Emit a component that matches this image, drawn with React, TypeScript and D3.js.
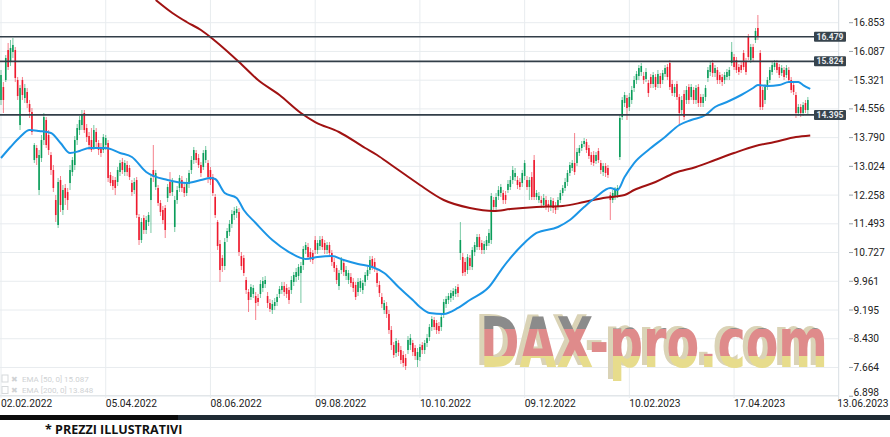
import React from "react";
import * as d3 from "d3";

const xTickBars = [0, 44, 88, 132, 176, 220, 264, 308, 352];
const xTickLabels = ["02.02.2022", "05.04.2022", "08.06.2022", "09.08.2022", "10.10.2022", "09.12.2022", "10.02.2023", "17.04.2023", "13.06.2023"];
const yTickValues = [6898, 7664, 8430, 9195, 9961, 10727, 11493, 12258, 13024, 13790, 14556, 15321, 16087, 16853];
const yTickLabels = ["6.898", "7.664", "8.430", "9.195", "9.961", "10.727", "11.493", "12.258", "13.024", "13.790", "14.556", "15.321", "16.087", "16.853"];
const levelValues = [16479, 15824, 14395];
const levelLabels = ["16.479", "15.824", "14.395"];
const legendLabels = ["EMA [50, 0] 15.087", "EMA [200, 0] 13.848"];

const opens = [
  14793,15139,15326,16125,15805,16072,16125,15326,14126,15326,
  14846,15006,14686,14473,13193,13513,12394,13247,13726,14260,
  13860,13327,12927,12127,11461,12660,11861,12447,12340,12580,
  12873,13060,13726,13993,14126,14446,14046,13833,13726,13513,
  13940,13646,13540,13460,13593,13646,12794,12660,12660,12607,
  12873,13140,12873,13060,12980,12580,12394,12660,11674,11061,
  11647,11328,11541,12127,12927,12474,12447,12047,11861,11914,
  12181,12607,12340,11408,12127,12447,12660,12474,12314,12554,
  12927,13193,13380,13247,13060,13007,13193,13113,12927,12740,
  12207,11541,10954,10581,10368,11114,11274,11488,11727,11781,
  11807,10635,10581,9995,9675,9542,9622,9568,9515,9622,
  9782,9888,9568,9382,9195,9302,9408,9622,9728,9835,
  9782,9728,9728,9942,10075,10102,10181,10395,10795,10874,
  10741,10715,11061,10795,10901,11088,10981,10795,10928,10715,
  10475,10315,9835,10261,10448,10102,9995,10075,9942,9862,
  9675,9782,9728,9942,10102,10261,10555,10475,10181,9862,
  9542,9195,9302,9089,8662,8262,8049,8316,8129,7996,
  7916,8129,8262,8316,8182,7863,7943,8262,8129,8316,
  8476,8742,8929,8849,8769,8742,9089,9355,9462,9515,
  9568,9622,9808,10715,10608,10475,10261,10581,10341,10741,
  10874,11141,10981,10795,10901,10981,11061,12127,11941,12234,
  12314,12314,12260,12394,12474,12660,12740,12660,12607,12580,
  12767,12660,12474,12740,13193,12207,12127,12127,11994,12127,
  12021,11941,12101,11967,11941,12127,12314,12447,12607,12847,
  12980,13113,13113,13380,13513,13620,13673,13513,13327,13327,
  13167,13433,13113,12873,13033,12980,12260,12127,12207,12260,
  13273,14340,14713,14846,14606,14793,15112,15326,15432,15539,
  15432,15352,15246,15406,15219,15406,15219,15432,15326,15486,
  15672,15779,15219,14979,15219,14873,14526,14953,14793,15139,
  14873,15059,14793,15139,14873,14713,14873,15379,15539,15779,
  15512,15592,15459,15406,15326,15406,15432,15779,15939,15859,
  15672,15725,16045,15805,16472,15859,16205,16392,16712,16045,
  15059,14793,15139,15326,15539,15672,15779,15672,15512,15592,
  15459,15592,15326,15192,14926,14446,14606,14446,14713,14526
];

const highs = [
  15592,15272,15992,16312,16392,16445,16205,15406,15192,15406,
  15219,15112,14793,14579,13646,13593,13460,13860,14446,14340,
  13993,13407,13060,12260,12714,12767,12527,12554,12447,13060,
  13273,13833,14153,14366,14526,14526,14153,13940,14046,14126,
  14046,13726,13646,13886,13860,13726,12873,12767,12740,13007,
  13193,13247,13193,13167,13060,12660,12714,12740,11754,11647,
  11727,11701,11807,12820,13593,12927,12527,12127,11967,11994,
  12554,12873,12714,12234,12500,12794,12767,12580,12714,12927,
  13300,13540,13460,13353,13140,13460,13567,13193,13007,12820,
  12287,11594,11061,10661,11114,11381,11594,11861,11941,11967,
  11914,10741,10661,10075,9755,9888,9862,9675,9622,9995,
  10075,10102,9675,9488,9462,9515,9622,9835,9942,9942,
  9888,9808,10102,10208,10315,10421,10475,10901,11008,10981,
  10848,10795,11168,11061,11168,11168,11061,11008,11008,10795,
  10581,10395,10261,10608,10528,10368,10261,10181,10048,9942,
  10048,10048,9995,10208,10341,10635,10635,10581,10261,9968,
  9648,9462,9408,9195,8769,8342,8449,8396,8236,8102,
  8023,8502,8556,8396,8262,8182,8289,8342,8396,8556,
  8822,9035,9009,8929,8875,9089,9488,9568,9648,9728,
  9782,9835,9888,11541,10715,10581,10688,10661,10874,11008,
  11221,11221,11061,11034,11168,11354,12314,12207,12314,12500,
  12554,12394,12367,12660,12767,13033,12980,12767,12714,12927,
  13193,12767,12740,12873,13327,12394,12340,12234,12287,12234,
  12127,12207,12181,12074,12207,12394,12527,12714,12927,13140,
  13193,13913,13513,13593,13700,13780,13753,13593,13407,13433,
  13407,13513,13193,13113,13113,13060,12340,12394,12474,12527,
  14420,14873,15006,14926,14979,15166,15432,15566,15725,15779,
  15539,15645,15326,15486,15539,15486,15592,15512,15592,15725,
  15752,15859,15326,15219,15299,14953,14899,15059,15166,15219,
  15219,15139,15192,15219,14953,14953,15192,15672,15805,15859,
  15725,15672,15539,15486,15539,15619,15672,16339,16019,15939,
  15752,15805,16125,15912,16552,16286,16286,16712,17058,16125,
  15139,15219,15406,15672,15805,15859,15859,15752,15725,15672,
  15725,15672,15406,15272,15006,14686,14686,14739,14793,14873
];

const lows = [
  14659,14446,15272,15592,15699,15912,15272,14793,13993,14793,
  14713,14579,14313,13860,13113,13060,12260,13140,13593,13513,
  13327,12794,12340,11541,11381,11807,11727,11994,11861,12394,
  12767,12927,13593,13860,13993,13913,13673,13460,13407,13460,
  13513,13327,13273,13380,13460,12607,12500,12394,12260,12500,
  12767,12820,12767,12767,12660,12234,12287,11647,10928,10981,
  11221,11221,11434,11248,12607,12394,11967,11701,11488,11114,
  12074,12234,12234,11274,12021,12340,12340,12207,12234,12447,
  12820,13087,13113,12980,12740,12927,13113,12580,12527,12234,
  11647,10795,9942,10208,10261,11008,11168,11381,11594,11647,
  10635,10261,10102,9622,9142,9462,9515,8929,9302,9515,
  9675,9782,9249,9142,9089,9195,9302,9515,9622,9568,
  9515,9355,9622,9835,9942,9995,9382,10261,10688,10528,
  10475,10421,10688,10688,10795,10795,10688,10688,10635,10368,
  10208,9888,9728,10155,10102,9995,9888,9808,9675,9462,
  9568,9675,9622,9835,9995,10155,10261,10208,9808,9542,
  9249,9089,8982,8556,8129,7916,7943,7969,7756,7676,
  7596,8023,8129,7969,7863,7676,7836,8023,8023,8209,
  8369,8636,8662,8556,8556,8636,8982,9249,9355,9408,
  9462,9542,9542,10528,10102,10102,10155,10261,10261,10635,
  10795,10795,10688,10688,10795,10901,10954,11834,11861,12127,
  12207,12021,12021,12314,12394,12554,12634,12420,12394,12474,
  12660,12394,12127,12127,12127,12127,12047,11914,11914,11861,
  11807,11834,11781,11754,11861,12047,12234,12367,12500,12767,
  12900,12794,13033,13300,13433,13540,13380,13220,13060,13033,
  13087,13113,12820,12767,12740,12714,11594,12047,12127,12181,
  13193,14260,14606,14260,14499,14686,15006,15219,15326,15432,
  15219,15272,14873,15112,15112,15059,15112,15112,15219,15406,
  15326,15059,14899,14873,14793,14126,14420,14260,14686,14686,
  14793,14686,14686,14606,14606,14606,14766,15272,15432,15406,
  15406,15219,15219,15166,15219,15326,15326,15699,15592,15512,
  15459,15512,15592,15459,15859,15779,15832,16312,16392,14526,
  14526,14686,15059,15246,15459,15592,15512,15379,15432,15326,
  15379,15246,14979,14926,14313,14366,14340,14366,14446,14420
];

const closes = [
  15459,14793,15912,15672,16179,16259,15379,14899,15112,14926,
  15112,14713,14473,13940,13593,13247,13327,13726,14340,13593,
  13460,12927,12447,11727,12607,11994,12394,12181,12127,12927,
  13193,13726,14046,14260,14393,13993,13806,13593,13460,13993,
  13673,13460,13380,13806,13780,12714,12580,12500,12447,12927,
  13113,12927,13113,12873,12740,12340,12607,11727,11061,11541,
  11328,11594,11727,12714,12740,12847,12047,11807,11594,11328,
  12474,12314,12607,12127,12394,12714,12447,12314,12607,12847,
  13193,13460,13193,13060,12847,13380,13460,12740,12660,12314,
  11727,10901,10261,10368,11008,11301,11488,11754,11834,11887,
  10741,10368,10181,9728,9462,9808,9782,9382,9408,9888,
  9968,9995,9382,9222,9355,9408,9542,9755,9835,9675,
  9622,9462,9995,10128,10208,10341,10368,10821,10928,10608,
  10581,10528,10795,10981,11061,10874,10795,10928,10715,10475,
  10315,9995,10181,10528,10208,10261,10181,9915,9782,9542,
  9942,9968,9915,10128,10261,10528,10368,10315,9915,9648,
  9355,9382,9089,8662,8262,7996,8369,8076,7863,7783,
  7703,8396,8449,8076,7969,8076,8209,8129,8316,8449,
  8742,8955,8742,8662,8636,9009,9408,9488,9568,9648,
  9702,9755,9648,11061,10181,10208,10608,10368,10795,10928,
  11141,10874,10795,10954,11061,11248,12234,11941,12207,12394,
  12474,12127,12127,12554,12660,12927,12847,12527,12474,12847,
  13113,12474,12660,12207,12207,12314,12234,12047,12181,11941,
  11941,12127,11914,11861,12127,12314,12447,12607,12847,13060,
  13113,12873,13407,13513,13620,13700,13460,13300,13140,13113,
  13327,13193,12927,13033,12847,12794,12127,12314,12394,12447,
  14313,14793,14926,14579,14873,15059,15326,15486,15645,15699,
  15326,15539,14979,15219,15459,15139,15486,15219,15512,15645,
  15406,15139,14979,15139,14873,14446,14793,14340,15059,14793,
  15139,14793,15112,14713,14713,14873,15112,15592,15725,15512,
  15645,15326,15326,15272,15459,15539,15592,16072,15672,15592,
  15539,15592,15672,15539,15939,16205,15912,16632,16472,14606,
  14606,15139,15326,15592,15725,15779,15592,15459,15645,15406,
  15645,15326,15059,15006,14446,14606,14446,14659,14526,14793
];

const ema50Bars = [0, 4, 8, 12, 16, 21, 25, 29, 33, 37, 44, 50, 55, 61, 70, 78, 84, 88, 90, 94, 99, 102, 107, 114, 121, 128, 133, 139, 144, 150, 156, 161, 167, 173, 176, 180, 186, 192, 197, 205, 211, 219, 225, 234, 239, 245, 250, 256, 259, 262, 266, 272, 279, 285, 290, 296, 300, 305, 311, 316, 318, 322, 327, 331, 335, 337, 340];
const ema50Values = [13247, 13540, 13806, 13993, 13966, 13913, 13646, 13380, 13433, 13513, 13513, 13380, 13273, 12873, 12660, 12580, 12660, 12714, 12687, 12314, 12181, 11861, 11514, 11061, 10741, 10555, 10608, 10635, 10528, 10421, 10341, 10181, 9808, 9462, 9275, 9115, 9089, 9249, 9462, 9808, 10341, 10928, 11248, 11408, 11594, 11941, 12207, 12447, 12394, 12740, 13113, 13460, 13806, 14126, 14260, 14393, 14606, 14739, 14926, 15112, 15192, 15166, 15192, 15272, 15272, 15192, 15087];

const ema200Bars = [65, 72, 78, 84, 90, 100, 108, 117, 126, 132, 142, 153, 158, 164, 170, 176, 186, 197, 207, 214, 225, 236, 245, 253, 262, 266, 275, 283, 292, 300, 308, 317, 325, 334, 340];
const ema200Values = [17458, 17112, 16872, 16658, 16365, 15805, 15326, 14926, 14446, 14206, 13940, 13513, 13327, 13060, 12794, 12527, 12127, 11914, 11834, 11887, 11941, 11967, 12074, 12181, 12260, 12394, 12607, 12847, 13007, 13193, 13380, 13567, 13673, 13806, 13848];

const UP = "#0a9d5a";
const DOWN = "#ee1a2e";

export default function App() {
  const plotW = 838;
  const plotH = 396;
  const x = d3.scaleLinear().domain([0, 352]).range([1, 838.8]);
  const y = d3.scaleLinear().domain([6898, 16853]).range([396.2, 22.7]);

  const ema50Path = d3
    .line<number>()
    .x((_, i) => x(ema50Bars[i]))
    .y((d) => y(d))
    .curve(d3.curveMonotoneX)(ema50Values) || "";
  const ema200Path = d3
    .line<number>()
    .x((_, i) => x(ema200Bars[i]))
    .y((d) => y(d))
    .curve(d3.curveMonotoneX)(ema200Values) || "";

  const font = "Roboto, 'Noto Sans', sans-serif";

  return (
    <div style={{ position: "absolute", left: 0, top: 0, width: 890, height: 437, background: "#fff" }}>
      <svg width={890} height={437} style={{ display: "block" }}>
        <defs>
          <clipPath id="plotClip">
            <rect x={0} y={0} width={plotW} height={plotH} />
          </clipPath>
          <linearGradient id="flagFill" x1="0" y1="-35" x2="0" y2="5" gradientUnits="userSpaceOnUse">
            <stop offset="0" stopColor="#8b8b8b" />
            <stop offset="0.25" stopColor="#8b8b8b" />
            <stop offset="0.25" stopColor="#df8b8b" />
            <stop offset="0.7" stopColor="#df8b8b" />
            <stop offset="0.7" stopColor="#e7dc8c" />
            <stop offset="1" stopColor="#e7dc8c" />
          </linearGradient>
        </defs>

        {/* grid */}
        <g>
          {yTickValues.map((v, i) => (
            <line key={"gy" + i} x1={0} x2={plotW} y1={y(v)} y2={y(v)} stroke="#e8ecef" strokeWidth={1} />
          ))}
          {xTickBars.map((b, i) => (
            <line key={"gx" + i} x1={x(b)} x2={x(b)} y1={0} y2={plotH + 2} stroke="#e8ecef" strokeWidth={1} />
          ))}
          <line x1={plotW + 0.5} x2={plotW + 0.5} y1={0} y2={plotH + 4} stroke="#dfe4e8" strokeWidth={1} />
          <line x1={0} x2={plotW} y1={plotH - 0.5} y2={plotH - 0.5} stroke="#e2e6e9" strokeWidth={1} />
        </g>

        {/* watermark */}
        <g fontFamily="'DejaVu Sans', 'Liberation Sans', sans-serif" fontWeight="bold" fontSize={46}>
          <g transform="translate(475,365) scale(1,1.52)">
            <text x={0} y={0} fill="#dad3b6" textLength={348} lengthAdjust="spacingAndGlyphs">DAX-pro.com</text>
          </g>
          <g transform="translate(480,367) scale(1,1.52)">
            <text x={0} y={0} fill="url(#flagFill)" textLength={348} lengthAdjust="spacingAndGlyphs">DAX-pro.com</text>
          </g>
        </g>

        {/* plot content */}
        <g clipPath="url(#plotClip)">
          {closes.map((c, i) => {
            const o = opens[i];
            const up = c >= o;
            const col = up ? UP : DOWN;
            const cx = x(i);
            const yTop = y(Math.max(o, c));
            const yBot = y(Math.min(o, c));
            return (
              <g key={"c" + i}>
                <line x1={cx} x2={cx} y1={y(highs[i])} y2={y(lows[i])} stroke={col} strokeOpacity={0.55} strokeWidth={1} />
                <rect x={cx - 0.8} y={yTop} width={1.6} height={Math.max(1, yBot - yTop)} fill={col} />
              </g>
            );
          })}
          <path d={ema200Path} fill="none" stroke="#a01212" strokeWidth={2} />
          <path d={ema50Path} fill="none" stroke="#1b95e6" strokeWidth={2} />
        </g>

        {/* horizontal levels */}
        {levelValues.map((v, i) => (
          <g key={"lv" + i}>
            <line x1={0} x2={815} y1={y(v)} y2={y(v)} stroke="#323e48" strokeWidth={1.7} />
            <rect x={814} y={y(v) - 5} width={32} height={10} fill="#37444e" rx={1} />
            <text x={830} y={y(v)} fill="#e6e9eb" fontSize={8.5} fontWeight="bold" fontFamily={font} textAnchor="middle" dominantBaseline="central">
              {levelLabels[i]}
            </text>
          </g>
        ))}

        {/* y axis labels */}
        {yTickValues.map((v, i) => (
          <g key={"yl" + i}>
            <line x1={849} x2={853} y1={y(v)} y2={y(v)} stroke="#9aa3a9" strokeWidth={1} />
            <text x={853.5} y={i === 0 ? y(v) - 3.5 : y(v)} fontSize={10.2} fill="#222" fontFamily={font} dominantBaseline="central">
              {yTickLabels[i]}
            </text>
          </g>
        ))}

        {/* x axis labels */}
        {xTickBars.map((b, i) => (
          <text key={"xl" + i} x={i === xTickBars.length - 1 ? x(b) - 1.5 : x(b)} y={407} fontSize={10.2} fill="#222" fontFamily={font}>
            {xTickLabels[i]}
          </text>
        ))}

        {/* legend */}
        {legendLabels.map((t, i) => (
          <g key={"lg" + i} fill="#cfd2d4" fontFamily={font}>
            <rect x={2} y={375 + i * 11.5} width={6} height={7} fill="none" stroke="#d6d9db" strokeWidth={1} />
            <text x={11} y={379 + i * 11.5} fontSize={8} dominantBaseline="central">✖</text>
            <text x={22} y={379 + i * 11.5} fontSize={8} dominantBaseline="central">{t}</text>
          </g>
        ))}

        {/* bottom band */}
        <rect x={0} y={415} width={890} height={5} fill="#1f2b34" />
        <rect x={0} y={415} width={178} height={5} fill="#0c0c0c" />
        <text x={45} y={433.5} fontSize={12.5} fontWeight="bold" fill="#111" fontFamily="'Open Sans', 'Noto Sans', sans-serif">
          * PREZZI ILLUSTRATIVI
        </text>
      </svg>
    </div>
  );
}
